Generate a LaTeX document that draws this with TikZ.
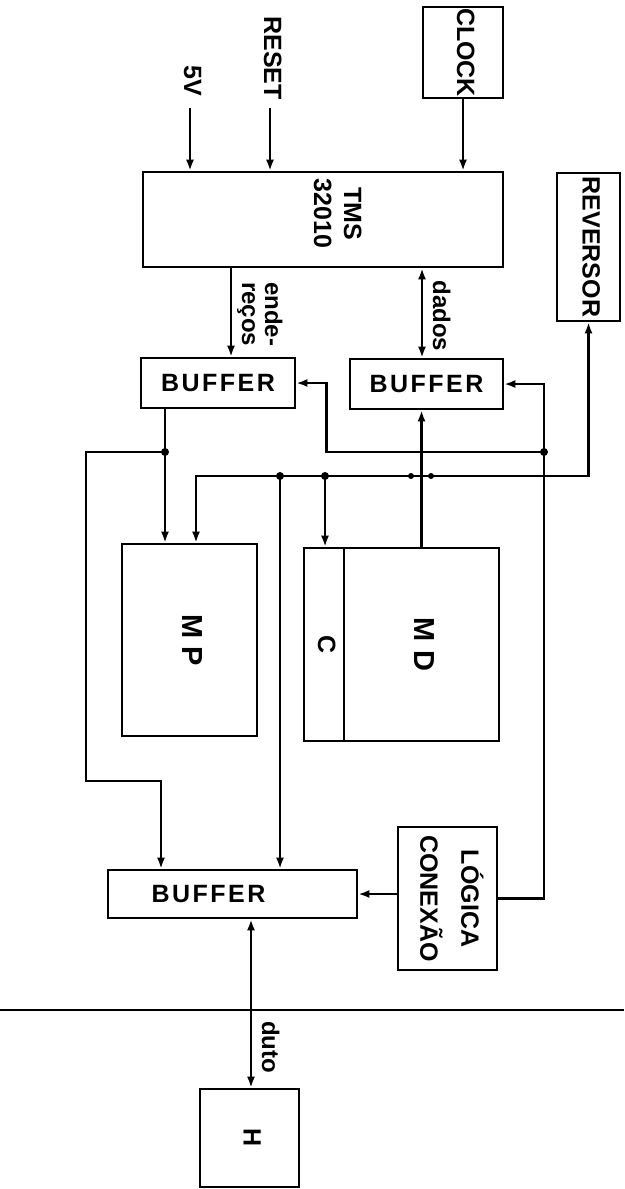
\documentclass[tikz,border=0pt]{standalone}
\usepackage{fontspec}
\setmainfont{Liberation Sans}
\newfontfamily\spacedfont[LetterSpace=10]{Liberation Sans}
\usepackage{graphicx}
\usetikzlibrary{arrows.meta, calc}

\newcommand{\vtxt}[1]{\rotatebox{-90}{\begin{tabular}{@{}c@{}}#1\end{tabular}}}

\tikzset{
  blk/.style={
    rectangle, draw=black, line width=2.6pt, inner sep=0pt,
    align=center, font=\fontsize{25}{29}\selectfont\bfseries
  },
  buftxt/.style={font=\spacedfont\fontsize{25}{29}\selectfont\bfseries},
  buf/.style={blk, buftxt, minimum height=50pt},
  big/.style={font=\fontsize{29}{34}\selectfont\bfseries},
  lbl/.style={inner sep=1pt, font=\fontsize{24}{29}\selectfont\bfseries},
  fa/.style={-{Latex[length=11pt,width=8pt]}, line width=2.6pt},
  fb/.style={{Latex[length=11pt,width=8pt]}-{Latex[length=11pt,width=8pt]}, line width=2.6pt},
  jn/.style={circle, fill=black, inner sep=0pt, minimum size=8pt},
}

\begin{document}
\begin{tikzpicture}[x=1pt, y=-1pt]
\useasboundingbox (0,0) rectangle (624,1189);

%% ── Processor row ───────────────────────────────────────────────
\node[blk, minimum width=80pt, minimum height=91pt] (clock) at (463,52.5) {\vtxt{CLOCK}};
\node[blk, minimum width=360pt, minimum height=95pt,
      label={[lbl, font=\fontsize{25}{30}\selectfont\bfseries, inner sep=0pt,
              xshift=12pt, yshift=6pt]center:\vtxt{TMS\\32010}}]
      (tms) at (323,219.5) {};
\node[blk, minimum width=63pt, minimum height=148pt] (rev) at (588.5,247) {\vtxt{REVERSOR}};
\node[lbl, font=\fontsize{25}{29}\selectfont\bfseries, anchor=south, inner sep=0pt]
      (v5) at (190,96) {\vtxt{5V}};
\node[lbl, font=\fontsize{25}{29}\selectfont\bfseries, anchor=south, inner sep=0pt]
      (reset) at (270,100) {\vtxt{RESET}};

%% ── Buffers ─────────────────────────────────────────────────────
\node[buf, minimum width=154pt] (buf1) at (218,383)   {BUFFER};
\node[buf, minimum width=153pt] (buf2) at (426.5,384) {BUFFER};

%% ── Memories ────────────────────────────────────────────────────
\node[blk, big, minimum width=135pt, minimum height=192pt] (mp) at (189.5,640) {\vtxt{M\hspace{8pt}P}};
\node[blk, minimum width=40pt, minimum height=193pt] (cm) at (324,644.5) {\vtxt{C}};
\node[blk, big, minimum width=155pt, minimum height=193pt] (md) at (421.5,644.5) {\vtxt{M\hspace{8pt}D}};

%% ── Bus interface ───────────────────────────────────────────────
\node[buf, minimum width=249pt, minimum height=48pt,
      label={[buftxt, xshift=-24pt]center:BUFFER}] (buf3) at (232.5,894) {};
\node[blk, minimum width=99pt, minimum height=143pt] (logic) at (447.5,898.5) {\vtxt{LÓGICA\\[10pt]CONEXÃO}};
\node[blk, minimum width=99pt, minimum height=98pt] (hbox) at (249.5,1138) {\vtxt{H}};

%% ── Junctions ───────────────────────────────────────────────────
\coordinate (ja) at (165,452);
\coordinate (jd) at (544,452);
\coordinate (jb) at (280,476);
\coordinate (jc) at (325,476);
\coordinate (kl) at (86,781);

%% ── Processor arrows ────────────────────────────────────────────
\draw[fa, shorten <=12pt] (v5.south) -- (v5.south |- tms.north);
\draw[fa, shorten <=8pt] (reset.south) -- (reset.south |- tms.north);
\draw[fa] (clock.south) -- (clock.south |- tms.north);
\draw[fa] ([xshift=13pt]buf1.north |- tms.south)
  -- node[lbl, right, pos=0.52] {\vtxt{ende-\\[-6pt]reços}} ([xshift=13pt]buf1.north);
\draw[fb] ([xshift=-4.5pt]buf2.north |- tms.south)
  -- node[lbl, right, pos=0.53] {\vtxt{dados}} ([xshift=-4.5pt]buf2.north);

%% ── Memory wiring ───────────────────────────────────────────────
\draw[fa] (ja |- buf1.south) -- (ja |- mp.north);
\draw[fa] (ja) -| (kl) -| ([xshift=-71.5pt]buf3.north);
\draw[fb] ([xshift=6.5pt]mp.north) |- (jb) -- (jc) -| (rev.south);
\draw[fa] (jb) -- (jb |- buf3.north);
\draw[fa] (jc) -- (jc |- cm.north);
\draw[fa] (md.north) -- (md.north |- buf2.south);

%% ── Control lines ───────────────────────────────────────────────
\draw[fa] (logic.east) -| (jd) |- (buf2.east);
\draw[fa] (jd) -| ([xshift=30pt]buf1.east) -- (buf1.east);
\draw[fa] (logic.west |- buf3.east) -- (buf3.east);

\foreach \j in {ja,jb,jc,jd} \node[jn] (d\j) at (\j) {};
\node[jn, minimum size=6pt] (xa) at (411,476) {};
\node[jn, minimum size=6pt] (xb) at (431,476) {};

%% ── External bus ────────────────────────────────────────────────
\draw[line width=2.4pt] (0,1010) -- (624,1010);
\draw[fb] ([xshift=18.5pt]buf3.south)
  -- node[lbl, right, pos=0.76] {\vtxt{duto}} ([xshift=18.5pt]buf3.south |- hbox.north);

\end{tikzpicture}
\end{document}
